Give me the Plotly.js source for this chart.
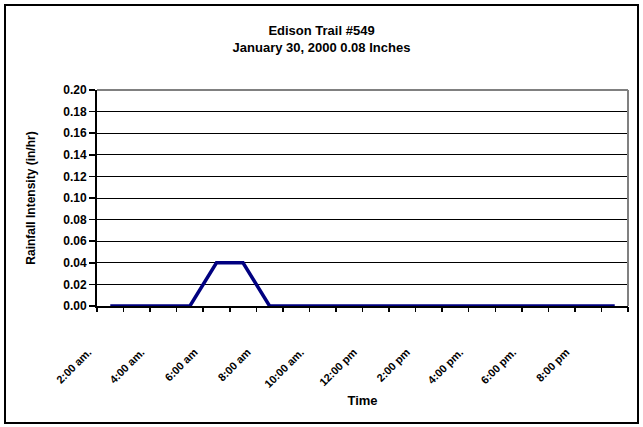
<!DOCTYPE html>
<html>
<head>
<meta charset="utf-8">
<script src="https://cdn.plot.ly/plotly-3.0.1.min.js"></script>
<style>
  html, body { margin: 0; padding: 0; background: #fff; }
  #chart { width: 643px; height: 427px; position: absolute; left: 0; top: 0; }
  #frame { position: absolute; left: 4px; top: 4px; width: 631px; height: 416px; border: 2px solid #000; pointer-events: none; }
</style>
</head>
<body>
<div id="chart"></div>
<div id="frame"></div>
<script>
// Hourly categories, 2:00 a.m. through 9:00 p.m.
const hours = ["2:00 a.m.","3:00 a.m.","4:00 a.m.","5:00 a.m.","6:00 a.m.","7:00 a.m.","8:00 a.m.","9:00 a.m.","10:00 a.m.","11:00 a.m.",
               "12:00 p.m.","1:00 p.m.","2:00 p.m.","3:00 p.m.","4:00 p.m.","5:00 p.m.","6:00 p.m.","7:00 p.m.","8:00 p.m.","9:00 p.m."];
// Rainfall intensity (in/hr)
const intensity = [0,0,0,0,0.04,0.04,0,0,0,0,0,0,0,0,0,0,0,0,0,0];
// Labelled categories
const labelCats = ["2:00 a.m.","4:00 a.m.","6:00 a.m.","8:00 a.m.","10:00 a.m.","12:00 p.m.","2:00 p.m.","4:00 p.m.","6:00 p.m.","8:00 p.m."];
const labelText = ["2:00 am.","4:00 am.","6:00 am","8:00 am","10:00 am.","12:00 pm","2:00 pm","4:00 pm.","6:00 pm.","8:00 pm"];
const yTicks = [0,0.02,0.04,0.06,0.08,0.10,0.12,0.14,0.16,0.18,0.20];

const boundaries = [];
for (let i = 0; i <= hours.length; i++) boundaries.push(i - 0.5);

const font = {family: "Liberation Sans, Arial, sans-serif", color: "#000"};

const trace = {
  x: hours, y: intensity, type: "scatter", mode: "lines",
  line: {color: "#000080", width: 3.5}, xaxis: "x", yaxis: "y", hoverinfo: "skip"
};
const dummy = {x: [0], y: [0], xaxis: "x2", yaxis: "y", mode: "none", showlegend: false, hoverinfo: "skip"};

const layout = {
  width: 643, height: 427,
  margin: {l: 97, r: 15, t: 90, b: 121},
  paper_bgcolor: "#fff", plot_bgcolor: "#fff",
  showlegend: false,
  font: Object.assign({}, font, {size: 12}),
  title: {
    text: "<b>Edison Trail #549</b><br><b>January 30, 2000 0.08 Inches</b>",
    font: Object.assign({}, font, {size: 13}),
    x: 0.5, xref: "container", xanchor: "center",
    y: 0.917, yref: "container", yanchor: "top"
  },
  xaxis: {
    type: "category", range: [-0.5, hours.length - 0.5],
    tickmode: "array", tickvals: labelCats, ticktext: labelText,
    tickangle: -45, ticks: "", showgrid: false, zeroline: false,
    ticklabelstandoff: 34, ticklabelshift: -22,
    showline: true, linecolor: "#000", linewidth: 1.5,
    tickfont: Object.assign({}, font, {size: 11, weight: "bold"}),
    title: {text: "<b>Time</b>", font: Object.assign({}, font, {size: 13}), standoff: 7},
    fixedrange: true
  },
  xaxis2: {
    overlaying: "x", type: "linear", range: [-0.5, hours.length - 0.5],
    tickmode: "array", tickvals: boundaries, showticklabels: false,
    ticks: "outside", ticklen: 5, tickwidth: 1.5, tickcolor: "#000",
    showgrid: false, zeroline: false, showline: false, side: "bottom", anchor: "y"
  },
  yaxis: {
    range: [0, 0.2], tickmode: "array", tickvals: yTicks,
    tickformat: ".2f", ticks: "outside", ticklen: 6, tickwidth: 1.5, tickcolor: "#000",
    showline: true, linecolor: "#000", linewidth: 2,
    showgrid: true, gridcolor: "#000", gridwidth: 1, zeroline: false,
    tickfont: Object.assign({}, font, {size: 12, weight: "bold"}),
    title: {text: "<b>Rainfall Intensity (in/hr)</b>", font: Object.assign({}, font, {size: 12}), standoff: 25},
    fixedrange: true
  },
  shapes: [
    {type: "line", xref: "paper", yref: "paper", x0: 0, x1: 1, y0: 1, y1: 1, line: {color: "#808080", width: 2}},
    {type: "line", xref: "paper", yref: "paper", x0: 1, x1: 1, y0: 0, y1: 1, line: {color: "#808080", width: 2}}
  ]
};

Plotly.newPlot("chart", [trace, dummy], layout, {staticPlot: true, displayModeBar: false});
</script>
</body>
</html>
